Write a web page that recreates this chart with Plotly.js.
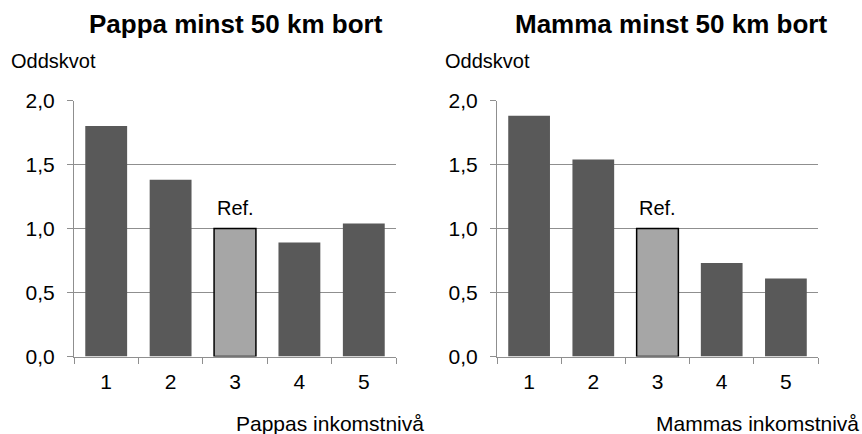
<!DOCTYPE html>
<html>
<head>
<meta charset="utf-8">
<script src="https://cdn.plot.ly/plotly-3.0.1.min.js"></script>
<style>html,body{margin:0;padding:0;background:#fff;}#chart{width:862px;height:434px;}</style>
</head>
<body>
<div id="chart"></div>
<script>
const categories = ["1", "2", "3", "4", "5"];
const pappaValues = [1.80, 1.38, 1.00, 0.89, 1.04];
const mammaValues = [1.88, 1.54, 1.00, 0.73, 0.61];
const refCategory = "3";
const leftTitle = "Pappa minst 50 km bort";
const rightTitle = "Mamma minst 50 km bort";
const yLabel = "Oddskvot";
const leftXLabel = "Pappas inkomstnivå";
const rightXLabel = "Mammas inkomstnivå";
const refLabel = "Ref.";

const W = 862, H = 434;
const darkBar = "#595959", refBar = "#a6a6a6";
const gridCol = "#8f8f8f";
const FONT = "Liberation Sans, Arial, sans-serif";
const refIdx = categories.indexOf(refCategory);

function barTrace(vals, xa, ya) {
  return {
    type: "bar", x: categories, y: vals, xaxis: xa, yaxis: ya,
    marker: {
      color: categories.map(c => c === refCategory ? refBar : darkBar),
      line: { color: categories.map(c => c === refCategory ? "#000" : darkBar),
              width: categories.map(c => c === refCategory ? 1.5 : 0) }
    },
    hoverinfo: "skip", showlegend: false
  };
}

const xBase = {
  type: "category", categoryorder: "array", categoryarray: categories,
  range: [-0.5, 4.5], tickson: "boundaries", ticks: "outside", ticklen: 6,
  tickcolor: gridCol, tickwidth: 1, showline: true, linecolor: gridCol, linewidth: 1,
  showgrid: false, zeroline: false, fixedrange: true, ticklabelstandoff: 6,
  tickfont: { family: FONT, size: 21, color: "#000" }
};
const yBase = {
  range: [0, 2], dtick: 0.5, tick0: 0, tickformat: ".1f", ticks: "outside", ticklen: 6,
  tickcolor: gridCol, tickwidth: 1, showline: true, linecolor: gridCol, linewidth: 1,
  showgrid: true, gridcolor: gridCol, gridwidth: 1, zeroline: false, fixedrange: true,
  ticklabelstandoff: 8,
  tickfont: { family: FONT, size: 21, color: "#000" },
  domain: [77.5 / H, 333.5 / H]
};

const layout = {
  width: W, height: H, margin: { l: 0, r: 0, t: 0, b: 0 },
  paper_bgcolor: "#fff", plot_bgcolor: "#fff",
  separators: ", ", bargap: 0.35,
  font: { family: FONT, color: "#000" },
  xaxis: Object.assign({}, xBase, { domain: [74 / W, 396 / W], anchor: "y" }),
  yaxis: Object.assign({}, yBase, { anchor: "x" }),
  xaxis2: Object.assign({}, xBase, { domain: [497 / W, 818 / W], anchor: "y2" }),
  yaxis2: Object.assign({}, yBase, { anchor: "x2" }),
  annotations: [
    { text: "<b>" + leftTitle + "</b>", xref: "paper", yref: "paper", x: 236 / W, y: 1 - 24 / H, xanchor: "center", yanchor: "middle", showarrow: false, font: { family: FONT, size: 26, color: "#000" } },
    { text: "<b>" + rightTitle + "</b>", xref: "paper", yref: "paper", x: 671 / W, y: 1 - 24 / H, xanchor: "center", yanchor: "middle", showarrow: false, font: { family: FONT, size: 26, color: "#000" } },
    { text: yLabel, xref: "paper", yref: "paper", x: 9 / W, y: 1 - 61 / H, xanchor: "left", yanchor: "middle", showarrow: false, font: { family: FONT, size: 20, color: "#000" } },
    { text: yLabel, xref: "paper", yref: "paper", x: 443 / W, y: 1 - 61 / H, xanchor: "left", yanchor: "middle", showarrow: false, font: { family: FONT, size: 20, color: "#000" } },
    { text: leftXLabel, xref: "paper", yref: "paper", x: 426 / W, y: 1 - 423 / H, xanchor: "right", yanchor: "middle", showarrow: false, font: { family: FONT, size: 21, color: "#000" } },
    { text: rightXLabel, xref: "paper", yref: "paper", x: 861 / W, y: 1 - 423 / H, xanchor: "right", yanchor: "middle", showarrow: false, font: { family: FONT, size: 21, color: "#000" } },
    { text: refLabel, xref: "x", yref: "y", x: refIdx, y: pappaValues[refIdx], yanchor: "bottom", yshift: 8, showarrow: false, font: { family: FONT, size: 20, color: "#000" } },
    { text: refLabel, xref: "x2", yref: "y2", x: refIdx, y: mammaValues[refIdx], yanchor: "bottom", yshift: 8, showarrow: false, font: { family: FONT, size: 20, color: "#000" } }
  ]
};

Plotly.newPlot("chart", [barTrace(pappaValues, "x", "y"), barTrace(mammaValues, "x2", "y2")], layout, { staticPlot: true, displayModeBar: false });
</script>
</body>
</html>
